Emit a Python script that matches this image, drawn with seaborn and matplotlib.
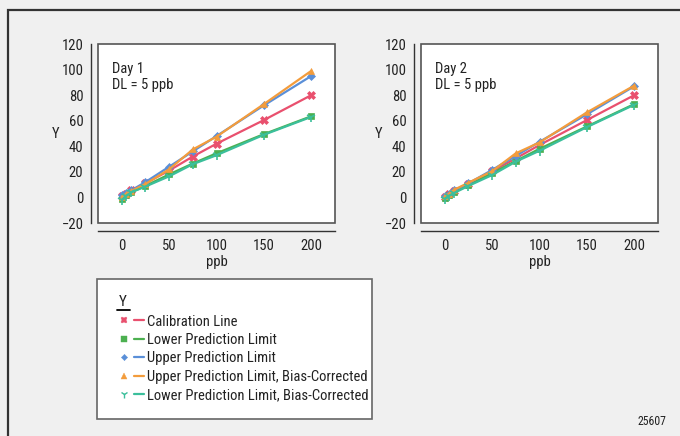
import numpy as np
import pandas as pd
import matplotlib
matplotlib.use("Agg")
import matplotlib.pyplot as plt
from matplotlib.lines import Line2D
from matplotlib.patches import Rectangle
from matplotlib.legend_handler import HandlerTuple
from matplotlib.ticker import MultipleLocator
import seaborn as sns

# данные
ppb = [0, 5, 10, 25, 50, 75, 100, 150, 200]
series_names = ["Calibration Line", "Lower Prediction Limit", "Upper Prediction Limit",
                "Upper Prediction Limit, Bias-Corrected", "Lower Prediction Limit, Bias-Corrected"]
days = ["Day 1", "Day 2"]

day1_cal = [1.5, 3, 5.5, 11, 21, 32, 42, 60.5, 80]
day1_lower = [-1, 2, 4, 9, 18, 26.5, 34.5, 49.5, 63.5]
day1_upper = [2, 3.5, 5.5, 12, 24, 36, 48, 72, 95]
day1_upper_bc = [0.5, 3, 5, 10.5, 22, 37.5, 47.5, 73, 99]
day1_lower_bc = [-2, 1.5, 4, 8.5, 16.5, 26, 33, 49, 63]

day2_cal = [0.5, 2.5, 5, 10.5, 20.5, 30.5, 41, 60.5, 80]
day2_lower = [-0.5, 2, 4, 9.5, 19, 28.5, 38, 55.5, 73]
day2_upper = [1.5, 3, 5.5, 11, 21.5, 32.5, 43.5, 65, 87]
day2_upper_bc = [1, 3, 6, 11.5, 20.5, 34.5, 43, 66.5, 87.5]
day2_lower_bc = [-1, 1.5, 3.5, 9, 17.5, 28, 36.5, 55, 72.5]

colors = ["#e9506e", "#4cb050", "#5a8fd8", "#f39c3c", "#3bbf9b"]
markers = ["X", "s", "D", "^", "1"]
msizes = [6, 5, 4, 5, 7]

values = {
    "Day 1": [day1_cal, day1_lower, day1_upper, day1_upper_bc, day1_lower_bc],
    "Day 2": [day2_cal, day2_lower, day2_upper, day2_upper_bc, day2_lower_bc],
}
rows = []
for d in days:
    for name, ys in zip(series_names, values[d]):
        for x, y in zip(ppb, ys):
            rows.append({"day": d, "series": name, "ppb": x, "Y": y})
df = pd.DataFrame(rows)

sns.set_style("white")
plt.rcParams["font.family"] = ["Roboto Condensed", "DejaVu Sans"]
plt.rcParams["font.size"] = 10.5
ink = "#333333"
txt = "#222222"

W, H = 680, 436
def px(x):
    return x / W
def py(y):
    return 1 - y / H

fig = plt.figure(figsize=(6.8, 4.36), dpi=100, facecolor="#f0f0f0")

# рамка вокруг всего рисунка
fig.patches.append(Rectangle((px(8), -0.1), 1.2, py(10) + 0.1, transform=fig.transFigure,
                             fill=False, edgecolor=ink, lw=1.6, zorder=0))

axes_left = [98, 421]
for d, left in zip(days, axes_left):
    ax = fig.add_axes([px(left), py(223), 237 / W, (223 - 44) / H])
    sub = df[df["day"] == d]
    for name, c, m, ms in zip(series_names, colors, markers, msizes):
        s = sub[sub["series"] == name]
        sns.lineplot(data=s, x="ppb", y="Y", ax=ax, color=c, marker=m, markersize=ms,
                     markeredgecolor=c, markeredgewidth=1.2 if m == "1" else 0.5,
                     lw=1.6, estimator=None, legend=False)
    ax.set_xlim(-25, 225)
    ax.set_ylim(-20, 120)
    ax.set_xticks([0, 50, 100, 150, 200])
    ax.xaxis.set_minor_locator(MultipleLocator(25))
    ax.set_yticks(range(-20, 121, 20))
    ax.set_yticklabels([str(v).replace("-", "\u2212") for v in range(-20, 121, 20)])
    for side in ["top", "right"]:
        ax.spines[side].set_visible(False)
    ax.spines["left"].set_position(("outward", 5))
    ax.spines["bottom"].set_position(("outward", 6))
    for side in ["left", "bottom"]:
        ax.spines[side].set_color(ink)
        ax.spines[side].set_linewidth(1.0)
    ax.patch.set_facecolor("white")
    ax.patch.set_edgecolor("#555555")
    ax.patch.set_linewidth(1.2)
    ax.tick_params(axis="both", which="both", direction="out", length=3.5, width=1.0,
                   color=ink, labelcolor=txt, pad=2, labelsize=10.5)
    ax.tick_params(axis="x", which="minor", length=3.5)
    ax.set_xlabel("ppb", labelpad=1.5, color=txt)
    ax.set_ylabel("Y", rotation=0, labelpad=4, va="center", color=txt)
    ax.text(0.06, 0.9, d + "\nDL = 5 ppb", transform=ax.transAxes, va="top", ha="left",
            fontsize=10.5, color=txt, linespacing=1.2)

# легенда
fig.patches.append(Rectangle((px(97), py(419)), (372 - 97) / W, (419 - 279) / H,
                             transform=fig.transFigure, facecolor="white",
                             edgecolor="#666666", lw=1.2, zorder=0))
fig.text(px(123), py(302), "Y", ha="center", va="center", fontsize=11, color=txt)
fig.add_artist(Line2D([px(116.5), px(129.5)], [py(310)] * 2, transform=fig.transFigure,
                      color="black", lw=1.3))
handles = [(Line2D([], [], marker=m, ls="none", color=c, markersize=ms * 0.8,
                   markeredgewidth=1.0 if m == "1" else 0.3),
            Line2D([], [], color=c, lw=1.6))
           for c, m, ms in zip(colors, markers, msizes)]
fig.legend(handles, series_names, handler_map={tuple: HandlerTuple(ndivide=None, pad=0.4)},
           loc="upper left", bbox_to_anchor=(px(119), py(314.5)), frameon=False,
           handlelength=1.7, handletextpad=0.25, labelspacing=0.3, borderpad=0,
           borderaxespad=0, fontsize=10.5, labelcolor=txt)

fig.text(px(666), py(421), "25607", ha="right", va="center", fontsize=8.5, color=txt)

fig.savefig("out.png", dpi=100, facecolor=fig.get_facecolor())
